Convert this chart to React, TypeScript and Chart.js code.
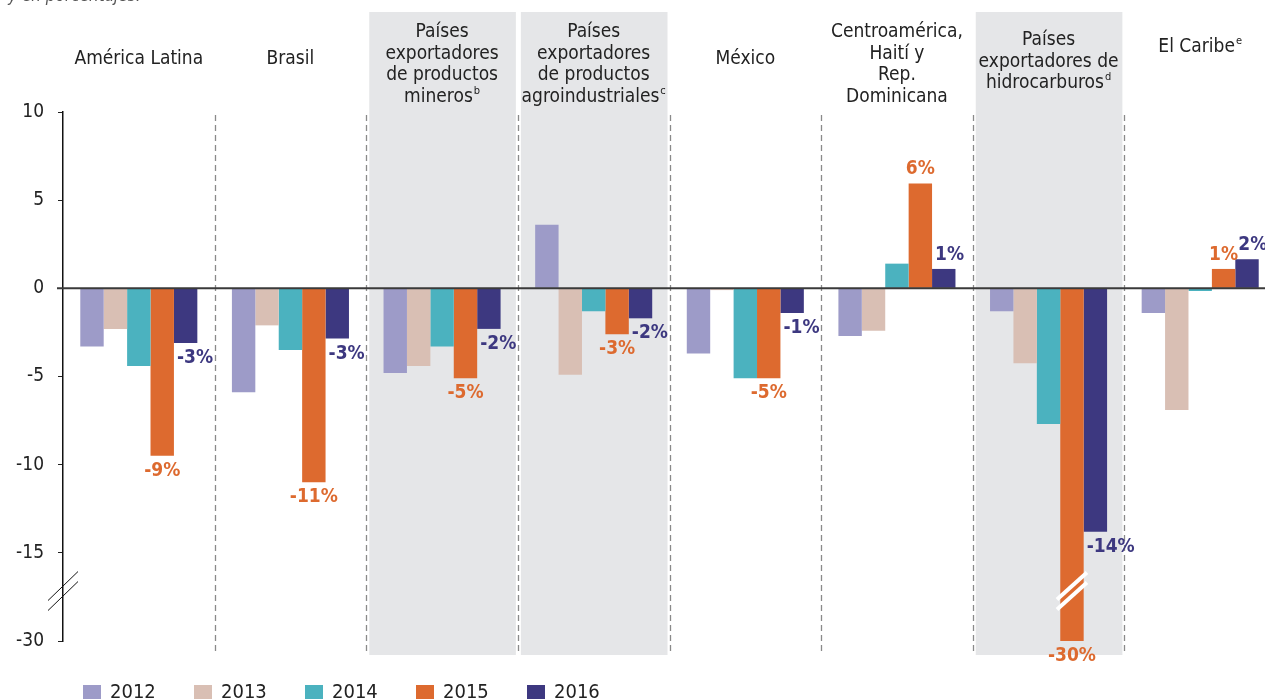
import React, { useEffect, useRef } from "react";
import { Chart, registerables } from "chart.js";

Chart.register(...registerables);

// ---------- data ----------
const categories: string[][] = [
  ["América Latina"],
  ["Brasil"],
  ["Países", "exportadores", "de productos", "mineros^b"],
  ["Países", "exportadores", "de productos", "agroindustriales^c"],
  ["México"],
  ["Centroamérica,", "Haití y", "Rep.", "Dominicana"],
  ["Países", "exportadores de", "hidrocarburos^d"],
  ["El Caribe^e"],
];
const years = ["2012", "2013", "2014", "2015", "2016"];
const s2012 = [-3.3, -5.9, -4.8, 3.6, -3.7, -2.7, -1.3, -1.4];
const s2013 = [-2.3, -2.1, -4.4, -4.9, -0.1, -2.4, -4.25, -6.9];
const s2014 = [-4.4, -3.5, -3.3, -1.3, -5.1, 1.4, -7.7, -0.15];
const s2015 = [-9.5, -11.0, -5.1, -2.6, -5.1, 5.95, -30, 1.1];
const s2016 = [-3.1, -2.85, -2.3, -1.7, -1.4, 1.1, -13.8, 1.65];
const yTicks = [10, 5, 0, -5, -10, -15, -30];
const shadedGroups = [2, 3, 6];
const labelledSeries = [3, 4];

const colors = ["#9d9bc8", "#d9bfb4", "#4bb2bf", "#dd6a2f", "#3d3880"];
const FONT = '"Liberation Sans Narrow", "DejaVu Sans Condensed", "Roboto Condensed", sans-serif';

// broken axis: the segment below -15 is compressed 3:1
const BREAK = -15;
const toPlot = (v: number) => (v >= BREAK ? v : BREAK + (v - BREAK) / 3);
const fromPlot = (t: number) => (t >= BREAK ? t : BREAK + (t - BREAK) * 3);

const titleCenterY = [59, 59, 64.5, 64.5, 59, 64.5, 62, 47];

const series = [s2012, s2013, s2014, s2015, s2016];

const decorPlugin = {
  id: "decor",
  beforeDatasetsDraw(chart: any) {
    const ctx = chart.ctx;
    const xs = chart.scales.x;
    const half = (xs.getPixelForValue(1) - xs.getPixelForValue(0)) / 2;
    ctx.save();
    ctx.fillStyle = "#e5e6e8";
    shadedGroups.forEach((i) => {
      const c = xs.getPixelForValue(i);
      ctx.fillRect(c - half + 3, 12, 2 * half - 5, 643);
    });
    ctx.strokeStyle = "#8a8a8a";
    ctx.lineWidth = 1.3;
    ctx.setLineDash([6, 4]);
    for (let i = 1; i < categories.length; i++) {
      const x = Math.round(xs.getPixelForValue(i) - half) + 0.5;
      ctx.beginPath();
      ctx.moveTo(x, 115);
      ctx.lineTo(x, 655);
      ctx.stroke();
    }
    ctx.restore();
  },
  afterDatasetsDraw(chart: any) {
    const ctx = chart.ctx;
    const ys = chart.scales.y;
    const y0 = ys.getPixelForValue(0);
    ctx.save();
    // zero line
    ctx.strokeStyle = "#3a3a3a";
    ctx.lineWidth = 2;
    ctx.beginPath();
    ctx.moveTo(57, y0);
    ctx.lineTo(chart.width, y0);
    ctx.stroke();

    const yb = ys.getPixelForValue(toPlot(-21.5));
    // break marks on bars beyond the break
    series.forEach((s, di) => {
      const meta = chart.getDatasetMeta(di);
      s.forEach((v, i) => {
        if (v < BREAK - 3) {
          const el = meta.data[i];
          ctx.strokeStyle = "#ffffff";
          ctx.lineWidth = 4;
          [-5, 5].forEach((d) => {
            ctx.beginPath();
            ctx.moveTo(el.x - 15, yb + d + 13.5);
            ctx.lineTo(el.x + 15, yb + d - 13.5);
            ctx.stroke();
          });
        }
      });
    });
    // axis break
    const ax = chart.chartArea.left;
    ctx.strokeStyle = "#111";
    ctx.lineWidth = 1;
    [-5, 5].forEach((d) => {
      ctx.beginPath();
      ctx.moveTo(ax - 15, yb + d + 14.5);
      ctx.lineTo(ax + 15, yb + d - 14.5);
      ctx.stroke();
    });

    // value labels
    ctx.font = `bold 19px ${FONT}`;
    ctx.textBaseline = "middle";
    labelledSeries.forEach((di) => {
      const meta = chart.getDatasetMeta(di);
      ctx.fillStyle = colors[di];
      series[di].forEach((v, i) => {
        const el = meta.data[i];
        const txt = `${Math.round(v)}%`;
        const y = v < 0 ? el.y + 15 : el.y - 14;
        if (di === 3) {
          ctx.textAlign = "center";
          ctx.fillText(txt, el.x, y);
        } else {
          ctx.textAlign = "left";
          ctx.fillText(txt, el.x - el.width / 2 + 3, y);
        }
      });
    });
    ctx.restore();
  },
  afterDraw(chart: any) {
    const ctx = chart.ctx;
    const xs = chart.scales.x;
    ctx.save();
    ctx.fillStyle = "#222";
    ctx.textBaseline = "middle";
    ctx.textAlign = "left";
    const lh = 21.5;
    categories.forEach((lines, i) => {
      const cx = xs.getPixelForValue(i);
      const start = titleCenterY[i] - ((lines.length - 1) * lh) / 2;
      lines.forEach((line, k) => {
        const [main, sup] = line.split("^");
        ctx.font = `19px ${FONT}`;
        const mw = ctx.measureText(main).width;
        ctx.font = `11px ${FONT}`;
        const sw = sup ? ctx.measureText(sup).width + 1 : 0;
        const x0 = cx - (mw + sw) / 2;
        const y = start + k * lh;
        ctx.font = `19px ${FONT}`;
        ctx.fillText(main, x0, y);
        if (sup) {
          ctx.font = `11px ${FONT}`;
          ctx.fillText(sup, x0 + mw + 1, y - 6);
        }
      });
    });

    // legend
    years.forEach((yr, k) => {
      const sx = 83 + k * 111;
      ctx.fillStyle = colors[k];
      ctx.fillRect(sx, 685, 18, 18);
      ctx.fillStyle = "#222";
      ctx.font = `20px ${FONT}`;
      ctx.fillText(yr, sx + 27, 693);
    });

    // cut-off caption at the top
    ctx.fillStyle = "#555";
    ctx.font = `italic 17px ${FONT}`;
    ctx.textBaseline = "alphabetic";
    ctx.fillText("y en porcentajes.", 8, 1);
    ctx.restore();
  },
};

export default function App() {
  const ref = useRef<HTMLCanvasElement | null>(null);
  useEffect(() => {
    if (!ref.current) return;
    const chart = new Chart(ref.current, {
      type: "bar",
      data: {
        labels: categories.map((c) => c.join(" ")),
        datasets: series.map((s, k) => ({
          label: years[k],
          data: s.map(toPlot),
          backgroundColor: colors[k],
          borderWidth: 0,
          categoryPercentage: 0.772,
          barPercentage: 1,
        })),
      },
      options: {
        responsive: false,
        animation: false,
        devicePixelRatio: 1,
        layout: { padding: { top: 112, bottom: 58, left: 0, right: 4 } },
        plugins: { legend: { display: false }, tooltip: { enabled: false } },
        scales: {
          x: { display: false, offset: true },
          y: {
            min: toPlot(-30),
            max: 10,
            afterBuildTicks: (s: any) => {
              s.ticks = yTicks.map((t) => ({ value: toPlot(t) }));
            },
            ticks: {
              callback: (v: any) => String(Math.round(fromPlot(Number(v)))),
              font: { size: 19, family: FONT },
              color: "#222",
              padding: 14,
            },
            grid: {
              display: true,
              drawOnChartArea: false,
              drawTicks: true,
              tickLength: 5,
              color: "#222",
              lineWidth: 1,
            },
            border: { display: true, color: "#111", width: 1.5 },
            afterFit: (s: any) => {
              s.width = 63;
            },
          },
        },
      },
      plugins: [decorPlugin],
    });
    return () => chart.destroy();
  }, []);
  return (
    <div
      style={{
        position: "fixed",
        left: 0,
        top: 0,
        width: 1265,
        height: 699,
        overflow: "hidden",
        background: "#fff",
      }}
    >
      <canvas ref={ref} width={1280} height={699} style={{ display: "block" }} />
    </div>
  );
}
